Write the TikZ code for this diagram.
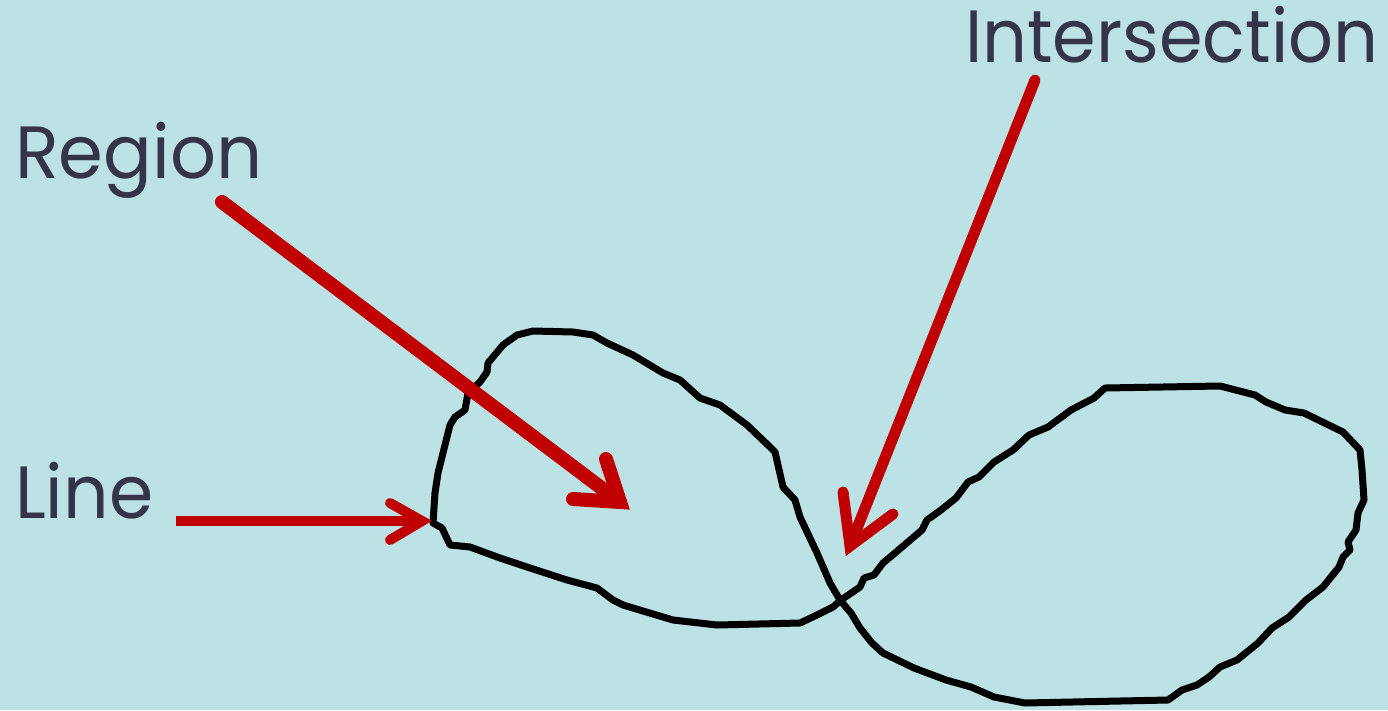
\documentclass[tikz,border=0pt]{standalone}
\usepackage{fontspec}
\usepackage{graphicx}
\setmainfont{Poppins}
\definecolor{bgc}{HTML}{BCE2E5}
\definecolor{txt}{HTML}{36344A}
\definecolor{arr}{HTML}{C00000}
\begin{document}
\begin{tikzpicture}[x=1pt,y=-1pt,
  lbl/.style={anchor=base west,inner sep=0pt,text=txt,font=\fontsize{74}{80}\selectfont},
  shaft/.style={draw=arr,line cap=round},
  head/.style={draw=arr,line cap=round,line join=miter},
  loopline/.style={draw=black,line width=7pt,line join=round,line cap=round}]
\fill[bgc] (0,0) rectangle (1388,710);
\useasboundingbox (0,0) rectangle (1388,710);
% curve
\draw[loopline] (840,600) -- (830,583) -- (817,553) -- (800,517) -- (795,500) -- (783,487) -- (775,452) -- (770,447) -- (747,425) -- (720,405) -- (700,398) -- (680,380) -- (663,373) -- (633,355) -- (607,343) -- (593,335) -- (573,332) -- (533,331) -- (517,335) -- (503,345) -- (488,363) -- (487,372) -- (480,382) -- (468,393) -- (465,410) -- (455,417) -- (450,425) -- (443,453) -- (438,473) -- (435,493) -- (433,523) -- (442,528) -- (450,545) -- (470,547) -- (500,558) -- (527,567) -- (567,580) -- (597,588) -- (613,600) -- (623,605) -- (673,620) -- (717,625) -- (800,623) -- (817,615) -- (833,607) -- (841,600)
  -- (860,587) -- (864,578) -- (874,575) -- (883,563) -- (895,553) -- (902,547) -- (922,530) -- (927,520) -- (941,510) -- (956,498) -- (968,482) -- (979,477) -- (994,462) -- (1013,450) -- (1029,435) -- (1048,427) -- (1071,410) -- (1094,398) -- (1105,388) -- (1220,386) -- (1255,395) -- (1266,402) -- (1285,410) -- (1304,413) -- (1343,432) -- (1360,450) -- (1362,470) -- (1364,500) -- (1358,513) -- (1356,530) -- (1348,542) -- (1350,550) -- (1343,557) -- (1339,567) -- (1323,587) -- (1306,600) -- (1289,617) -- (1272,628) -- (1258,643) -- (1237,660) -- (1220,667) -- (1209,677) -- (1197,685) -- (1182,690) -- (1168,700) -- (1025,703) -- (994,697) -- (971,687) -- (946,680) -- (914,668) -- (883,653) -- (872,643) -- (860,628) -- (851,613) -- cycle;
% labels
\node[lbl] (region) at (15,178) {\resizebox{247pt}{\height}{Region}};
\node[lbl] (line) at (15,518) {\resizebox{138pt}{\height}{Line}};
\node[lbl] (inter) at (965,62) {\resizebox{413pt}{\height}{Intersection}};
% arrows
\coordinate (rs) at (222,202);
\coordinate (rt) at (620,502);
\draw[shaft,line width=14pt] (rs) -- (rt);
\draw[head,line width=14pt] (606,459) -- (rt) -- (573,499);
\coordinate (ls) at (176,521);
\coordinate (lt) at (422,521);
\draw[shaft,line width=10pt,line cap=butt] (ls) -- (lt);
\draw[head,line width=10pt] (390,503) -- (lt) -- (390,540);
\coordinate (is) at (1035,80);
\coordinate (it) at (850,546);
\draw[shaft,line width=11pt] (is) -- (it);
\draw[head,line width=11pt] (843,492) -- (it) -- (893,514);
\end{tikzpicture}
\end{document}
